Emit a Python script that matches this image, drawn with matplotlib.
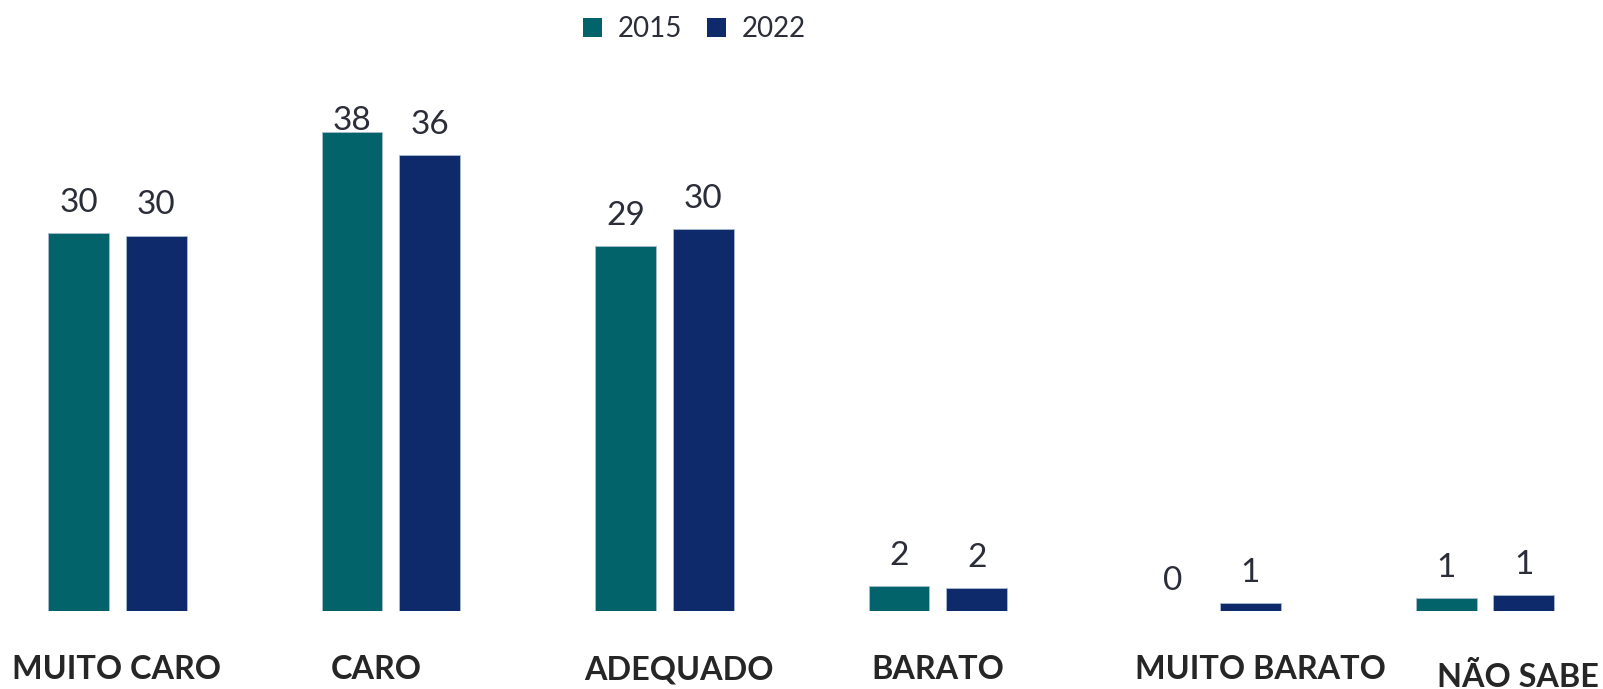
import numpy as np
import matplotlib.pyplot as plt
from matplotlib.patches import Patch

categories = ['MUITO CARO', 'CARO', 'ADEQUADO', 'BARATO', 'MUITO BARATO', 'NÃO SABE']
series_names = ['2015', '2022']
vals_2015 = [30.0, 38.0, 29.0, 2.0, 0.0, 1.0]
vals_2022 = [29.8, 36.2, 30.3, 1.8, 0.6, 1.3]

TEAL = '#03636a'
NAVY = '#0e2a6a'
TXT = '#2b2e38'

plt.rcParams['font.family'] = ['Lato', 'DejaVu Sans']

fig = plt.figure(figsize=(16.03, 6.89), dpi=100)
ax = fig.add_axes([0, 78 / 689, 1, 551 / 689])

x = np.arange(len(categories))
w = 0.223
off = 0.142
ax.set_xlim(-0.429, 5.432)
ax.set_ylim(0, 43.73)

cap = 38.17   # value labels don't go above this
gap = 1.67
for vals, color, sign in [(vals_2015, TEAL, -1), (vals_2022, NAVY, 1)]:
    xs = x + sign * off
    ax.bar(xs, vals, width=w, color=color, edgecolor='#a9bccf', linewidth=0.6)
    for xi, v in zip(xs, vals):
        ax.text(xi, min(v + gap, cap), f'{v:.0f}', ha='center', va='baseline',
                fontsize=24, color=TXT)

# category names, nudged sideways like the original layout
shift_px = [-1, -15, 15, 0, 49, 33]
drop_px = [68, 68, 68, 68, 68, 76]
for xi, name, dx, dy in zip(x, categories, shift_px, drop_px):
    ax.annotate(name, xy=(xi, 0), xycoords=ax.get_xaxis_transform(),
                xytext=(dx * 0.72, -dy * 0.72), textcoords='offset points',
                ha='center', va='baseline', fontsize=23.3, fontweight='bold',
                color='#262626', annotation_clip=False)

ax.axis('off')

handles = [Patch(facecolor=TEAL), Patch(facecolor=NAVY)]
fig.legend(handles, series_names, loc='upper center', bbox_to_anchor=(0.433, 1.005),
           ncol=2, frameon=False, fontsize=20, labelcolor=TXT,
           handlelength=0.7, handleheight=0.7, handletextpad=0.55, columnspacing=0.9,
           borderaxespad=0.3)

fig.savefig('out.png', dpi=100)
